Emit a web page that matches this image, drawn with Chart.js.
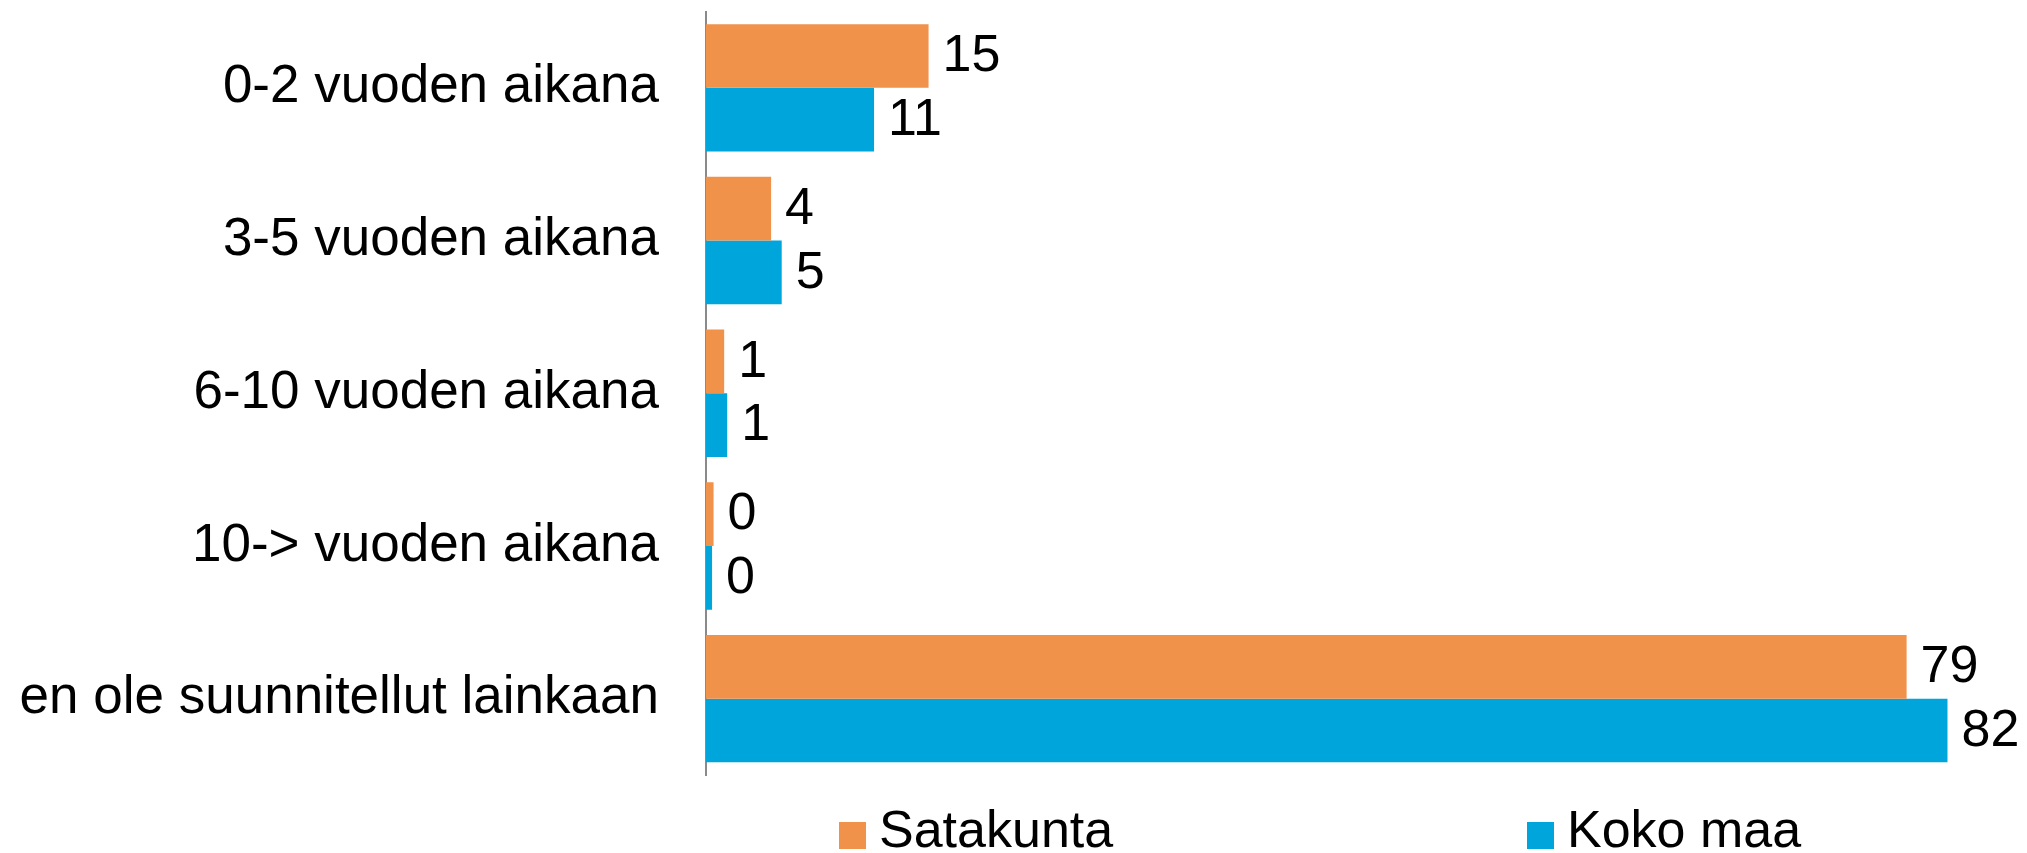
<!DOCTYPE html>
<html>
<head>
<meta charset="utf-8">
<script src="https://cdn.jsdelivr.net/npm/chart.js@4/dist/chart.umd.min.js"></script>
<style>
  html, body { margin: 0; padding: 0; background: #ffffff; }
  #wrap { width: 2027px; height: 853px; }
</style>
</head>
<body>
<div id="wrap"><canvas id="c" width="2027" height="853"></canvas></div>
<script>
const categories = [
  "0-2 vuoden aikana",
  "3-5 vuoden aikana",
  "6-10 vuoden aikana",
  "10-> vuoden aikana",
  "en ole suunnitellut lainkaan"
];
const seriesNames = ["Satakunta", "Koko maa"];
const satakunta = [14.7, 4.3, 1.2, 0.5, 79.3];
const kokoMaa = [11.1, 5.0, 1.4, 0.4, 82.0];
const satakuntaLabels = ["15", "4", "1", "0", "79"];
const kokoMaaLabels = ["11", "5", "1", "0", "82"];
const colors = ["#F1924B", "#00A5DB"];

const FONT = "'Liberation Sans', Arial, Helvetica, sans-serif";
const FS = 52;
const CAT_FS = 53;

const valueLabels = {
  id: "valueLabels",
  afterDatasetsDraw(chart) {
    const ctx = chart.ctx;
    ctx.save();
    ctx.font = FS + "px " + FONT;
    ctx.fillStyle = "#000000";
    ctx.textAlign = "left";
    ctx.textBaseline = "middle";
    chart.data.datasets.forEach((ds, i) => {
      const meta = chart.getDatasetMeta(i);
      meta.data.forEach((bar, j) => {
        ctx.fillText(ds.shownLabels[j], bar.x + 14, bar.y + 1);
      });
    });
    ctx.restore();
  }
};

const customLegend = {
  id: "customLegend",
  afterDraw(chart) {
    const ctx = chart.ctx;
    const xs = [839, 1527];
    ctx.save();
    ctx.font = FS + "px " + FONT;
    ctx.textAlign = "left";
    ctx.textBaseline = "alphabetic";
    chart.data.datasets.forEach((ds, i) => {
      const x = xs[i];
      ctx.fillStyle = ds.backgroundColor;
      ctx.fillRect(x, 822, 27, 27);
      ctx.fillStyle = "#000000";
      ctx.fillText(ds.label, x + 40, 847);
    });
    ctx.restore();
  }
};

new Chart(document.getElementById("c"), {
  type: "bar",
  data: {
    labels: categories,
    datasets: [
      { label: seriesNames[0], data: satakunta, shownLabels: satakuntaLabels, backgroundColor: colors[0],
        categoryPercentage: 0.834, barPercentage: 1.0 },
      { label: seriesNames[1], data: kokoMaa, shownLabels: kokoMaaLabels, backgroundColor: colors[1],
        categoryPercentage: 0.834, barPercentage: 1.0 }
    ]
  },
  options: {
    indexAxis: "y",
    responsive: false,
    animation: false,
    layout: { padding: { top: 11.5, bottom: 78, left: 0, right: 34.1 } },
    plugins: {
      legend: { display: false },
      tooltip: { enabled: false }
    },
    scales: {
      x: {
        display: false,
        min: 0,
        max: 85
      },
      y: {
        afterFit(s) { s.width = 706; s.paddingTop = 0; s.paddingBottom = 0; },
        grid: { display: false, drawTicks: false },
        border: { display: true, color: "#8A8A8A", width: 2 },
        ticks: {
          padding: 47,
          color: "#000000",
          font: { family: FONT, size: CAT_FS }
        }
      }
    }
  },
  plugins: [valueLabels, customLegend]
});
</script>
</body>
</html>
